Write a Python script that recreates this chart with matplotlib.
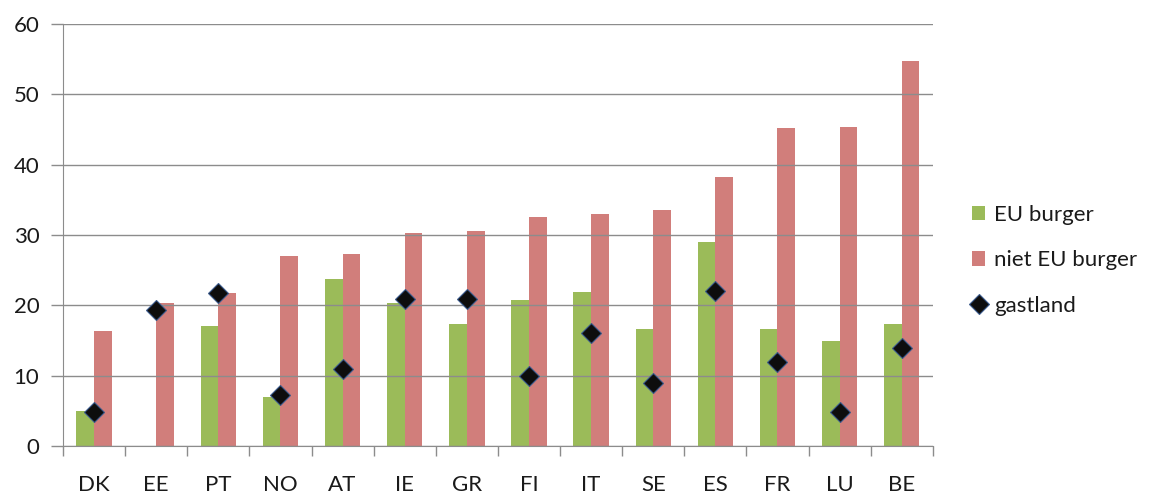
import numpy as np
import matplotlib
matplotlib.use("Agg")
import matplotlib.pyplot as plt
from matplotlib.ticker import FixedLocator

# Data
landen = ['DK', 'EE', 'PT', 'NO', 'AT', 'IE', 'GR', 'FI', 'IT', 'SE', 'ES', 'FR', 'LU', 'BE']
eu_burger = [5.0, 0, 17.1, 6.9, 23.8, 20.3, 17.3, 20.8, 21.9, 16.7, 29.0, 16.7, 14.9, 17.3]
niet_eu_burger = [16.4, 20.4, 21.7, 27.0, 27.3, 30.3, 30.5, 32.5, 33.0, 33.5, 38.2, 45.2, 45.4, 54.7]
gastland = [4.8, 19.4, 21.7, 7.2, 10.9, 20.9, 20.9, 10.0, 16.0, 8.9, 22.0, 11.9, 4.9, 14.0]

plt.rcParams['font.family'] = ['Lato', 'DejaVu Sans']

fig = plt.figure(figsize=(11.52, 4.95), dpi=100)
ax = fig.add_axes([0.0547, 0.099, 0.755, 0.8525])

x = np.arange(len(landen))
w = 0.285
groen = '#9BBB59'
rood = '#D17E7B'
tekst = '#1a1a1a'

b1 = ax.bar(x - w / 2, eu_burger, w, color=groen, label='EU burger', zorder=1)
b2 = ax.bar(x + w / 2, niet_eu_burger, w, color=rood, label='niet EU burger', zorder=1)
p, = ax.plot(x, gastland, linestyle='none', marker='D', markersize=10.5,
             markerfacecolor='#0d0d0d', markeredgecolor='#3a5a8c', markeredgewidth=0.8,
             label='gastland', zorder=3)

ax.set_xlim(-0.5, len(landen) - 0.5)
ax.set_ylim(0, 60)
ax.set_yticks(range(0, 61, 10))
ax.set_xticks(x)
ax.set_xticklabels(landen)
ax.xaxis.set_minor_locator(FixedLocator(np.arange(-0.5, len(landen), 1.0)))

ax.grid(axis='y', color='#8c8c8c', linewidth=1.0, zorder=2)
ax.set_axisbelow(False)

for s in ['top', 'right']:
    ax.spines[s].set_visible(False)
ax.spines['left'].set_color('#8c8c8c')
ax.spines['bottom'].set_color('#8c8c8c')

ax.tick_params(axis='y', length=9, width=1, color='#8c8c8c', labelsize=16, pad=8, labelcolor=tekst)
ax.tick_params(axis='x', which='major', length=0, labelsize=16, pad=21, labelcolor=tekst)
ax.tick_params(axis='x', which='minor', length=7, width=1, color='#8c8c8c')

leg = ax.legend([b1, b2, p], ['EU burger', 'niet EU burger', 'gastland'],
                loc='center left', bbox_to_anchor=(1.022, 0.44), frameon=False,
                fontsize=16, handlelength=0.6, handleheight=0.6, handletextpad=0.4,
                labelspacing=1.15)
for t in leg.get_texts():
    t.set_color(tekst)

fig.savefig('out.png', dpi=100)
